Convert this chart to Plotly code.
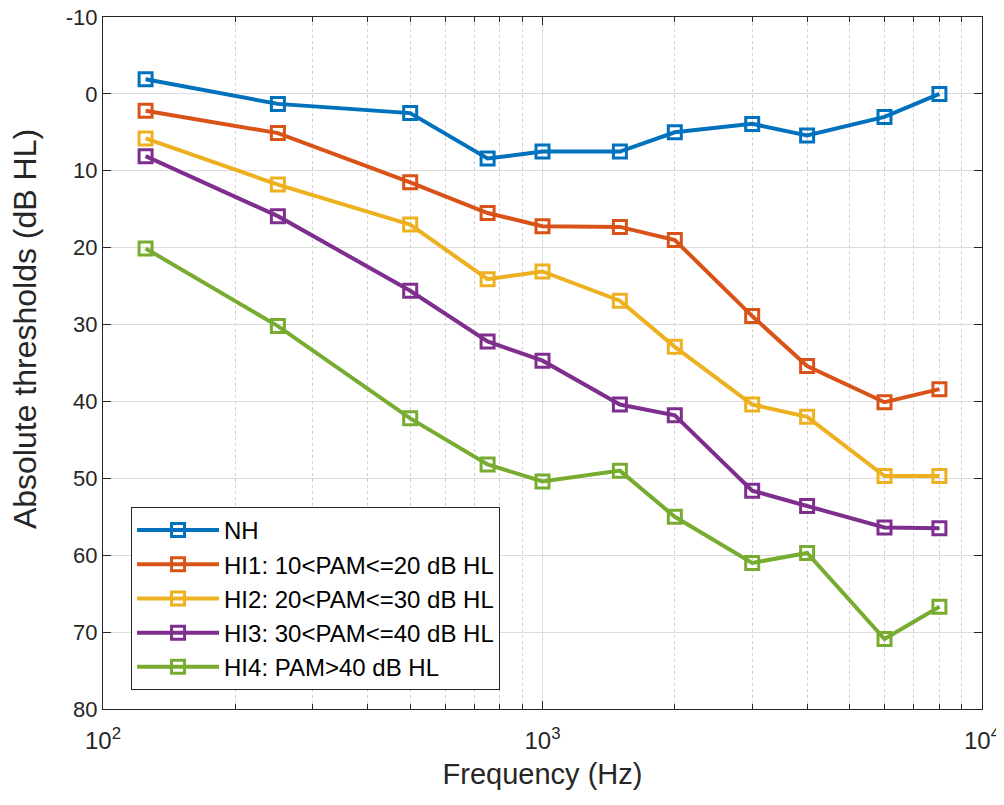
import plotly.graph_objects as go

freqs = [125, 250, 500, 750, 1000, 1500, 2000, 3000, 4000, 6000, 8000]
nh = [-1.9, 1.3, 2.5, 8.4, 7.5, 7.5, 5.0, 3.9, 5.4, 3.0, 0.0]
hi1 = [2.2, 5.1, 11.5, 15.5, 17.2, 17.3, 19.0, 28.9, 35.4, 40.1, 38.4]
hi2 = [5.8, 11.8, 17.0, 24.1, 23.1, 26.9, 32.9, 40.4, 42.0, 49.7, 49.7]
hi3 = [8.1, 15.9, 25.6, 32.2, 34.7, 40.4, 41.8, 51.6, 53.6, 56.4, 56.5]
hi4 = [20.1, 30.2, 42.2, 48.2, 50.4, 49.0, 55.0, 61.0, 59.7, 70.9, 66.7]

names = ["NH", "HI1: 10&lt;PAM&lt;=20 dB HL", "HI2: 20&lt;PAM&lt;=30 dB HL",
         "HI3: 30&lt;PAM&lt;=40 dB HL", "HI4: PAM&gt;40 dB HL"]
colors = ["#0072BD", "#D95319", "#EDB120", "#7E2F8E", "#77AC30"]
series = [nh, hi1, hi2, hi3, hi4]

y_ticks = [-10, 0, 10, 20, 30, 40, 50, 60, 70, 80]
y_ticktext = ["-10", "0", "10", "20", "30", "40", "50", "60", "70", "80"]
x_ticks = [100, 1000, 10000]
x_ticktext = ["10<sup>2</sup>", "10<sup>3</sup>", "10<sup>4</sup>"]
x_minor = [200, 300, 400, 500, 600, 700, 800, 900,
           2000, 3000, 4000, 5000, 6000, 7000, 8000, 9000]

FONT = "Liberation Sans, Arial, sans-serif"
AX = "#262626"

fig = go.Figure()
for i, (name, col, vals) in enumerate(zip(names, colors, series)):
    fig.add_trace(go.Scatter(
        x=freqs, y=vals, name=name, mode="lines+markers", legendgroup=f"g{i}",
        line=dict(color=col, width=4),
        marker=dict(symbol="square-open", size=13, color=col, line=dict(width=3, color=col)),
    ))

# the page body has an 8px margin, so the figure sits at (8, 8)
fig.update_layout(
    width=996, height=797,
    margin=dict(l=95, r=22, t=9, b=96),
    paper_bgcolor="white", plot_bgcolor="white",
    font=dict(family=FONT, size=22, color=AX),
    showlegend=True,
    legend=dict(
        x=0.0319, y=0.292, xanchor="left", yanchor="top",
        bgcolor="white", bordercolor=AX, borderwidth=1,
        font=dict(family=FONT, size=24, color="black"),
        tracegroupgap=0, itemwidth=82,
    ),
    xaxis=dict(
        type="log", range=[2, 4], automargin=False, ticklabeloverflow="allow",
        tickmode="array", tickvals=x_ticks, ticktext=x_ticktext,
        showgrid=True, gridcolor="#dcdcdc", gridwidth=1,
        ticks="inside", ticklen=8, tickcolor=AX,
        showline=True, linecolor=AX, linewidth=1.2, mirror="ticks",
        zeroline=False, ticklabelstandoff=10,
        title=dict(text="Frequency (Hz)", font=dict(size=29, color=AX), standoff=10),
        tickfont=dict(size=24, color=AX),
        minor=dict(tickvals=x_minor, showgrid=True, gridcolor="#d0d0d0",
                   griddash="dot", gridwidth=1, ticks="inside", ticklen=5, tickcolor=AX),
    ),
    yaxis=dict(
        range=[80, -10], automargin=False, ticklabeloverflow="allow",
        tickmode="array", tickvals=y_ticks, ticktext=y_ticktext,
        showgrid=True, gridcolor="#dcdcdc", gridwidth=1,
        ticks="inside", ticklen=8, tickcolor=AX,
        showline=True, linecolor=AX, linewidth=1.2, mirror="ticks",
        zeroline=False,
        tickfont=dict(size=22, color=AX),
    ),
    annotations=[dict(
        text="Absolute thresholds (dB HL)", textangle=-90,
        xref="paper", yref="paper", x=0, y=0.549, xanchor="center", yanchor="middle",
        xshift=-78, showarrow=False, font=dict(family=FONT, size=32, color=AX),
    )],
)

fig.write_html("out.html")
